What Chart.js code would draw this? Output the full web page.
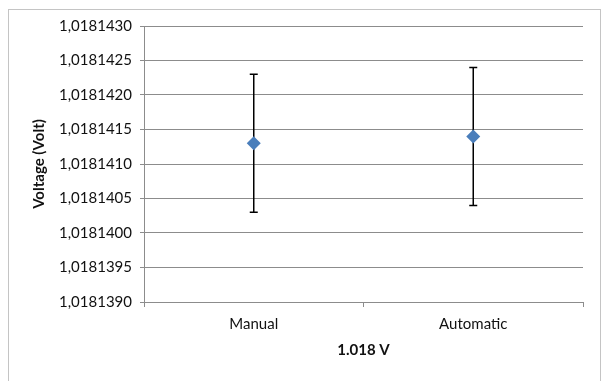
<!DOCTYPE html>
<html>
<head>
<meta charset="utf-8">
<script src="https://cdn.jsdelivr.net/npm/chart.js@4"></script>
<style>
  body { margin: 0; background: #fff; }
  #wrap { position: relative; width: 604px; height: 381px; }
  #frame { position: absolute; left: 8px; top: 9px; width: 593px; height: 380px; border: 1px solid #c4c4c4; box-sizing: border-box; }
  canvas { position: absolute; left: 0; top: 0; }
</style>
</head>
<body>
<div id="wrap">
  <div id="frame"></div>
  <canvas id="chart" width="604" height="381"></canvas>
</div>
<script>
// ===== data =====
const categories = ["Manual", "Automatic"];
const voltages = [1.0181413, 1.0181414];
const errLow = [1.0181403, 1.0181404];
const errHigh = [1.0181423, 1.0181424];
const yTicks = [1.0181390, 1.0181395, 1.0181400, 1.0181405, 1.0181410, 1.0181415, 1.0181420, 1.0181425, 1.0181430];

const FONT = "Lato, 'Liberation Sans', sans-serif";
const GRID = "#8c8c8c";

// error bars drawn through the y scale, under the markers
const errorBars = {
  id: "errorBars",
  beforeDatasetsDraw(chart) {
    const ctx = chart.ctx;
    const x = chart.scales.x, y = chart.scales.y;
    ctx.save();
    ctx.strokeStyle = "#000";
    ctx.lineWidth = 1.5;
    categories.forEach((c, i) => {
      const px = x.getPixelForValue(i);
      const top = y.getPixelForValue(errHigh[i]);
      const bot = y.getPixelForValue(errLow[i]);
      ctx.beginPath();
      ctx.moveTo(px, top); ctx.lineTo(px, bot);
      ctx.moveTo(px - 4, top); ctx.lineTo(px + 4, top);
      ctx.moveTo(px - 4, bot); ctx.lineTo(px + 4, bot);
      ctx.stroke();
    });
    ctx.restore();
  }
};

new Chart(document.getElementById("chart"), {
  type: "line",
  data: {
    labels: categories,
    datasets: [{
      data: voltages,
      showLine: false,
      pointStyle: "rectRot",
      pointRadius: 7,
      pointHoverRadius: 7,
      pointBackgroundColor: "#4a7ebb",
      pointBorderColor: "#4a7ebb",
      pointBorderWidth: 0
    }]
  },
  options: {
    responsive: false,
    animation: false,
    layout: { padding: { left: 30, right: 21, top: 26, bottom: 22 } },
    plugins: { legend: { display: false }, tooltip: { enabled: false } },
    scales: {
      x: {
        offset: true,
        grid: { offset: true, drawOnChartArea: false, drawTicks: true, tickLength: 5, color: GRID },
        border: { color: GRID, width: 1 },
        ticks: { color: "#111", font: { family: FONT, size: 15 }, padding: 8 },
        title: { display: true, text: "1.018 V", color: "#111", font: { family: FONT, size: 15, weight: "bold" }, padding: 0 },
        afterFit(s) { s.height = 57; }
      },
      y: {
        min: 1.018139,
        max: 1.018143,
        afterBuildTicks(s) { s.ticks = yTicks.map(v => ({ value: v })); },
        grid: { color: GRID, lineWidth: 1, tickLength: 4 },
        border: { color: GRID, width: 1 },
        ticks: {
          color: "#111",
          font: { family: FONT, size: 15 },
          padding: 8,
          callback: v => v.toFixed(7).replace(".", ",")
        },
        title: { display: true, text: "Voltage (Volt)", color: "#111", font: { family: FONT, size: 15, weight: "bold" }, padding: 0 },
        afterFit(s) { s.width = 114; }
      }
    }
  },
  plugins: [errorBars]
});
</script>
</body>
</html>
